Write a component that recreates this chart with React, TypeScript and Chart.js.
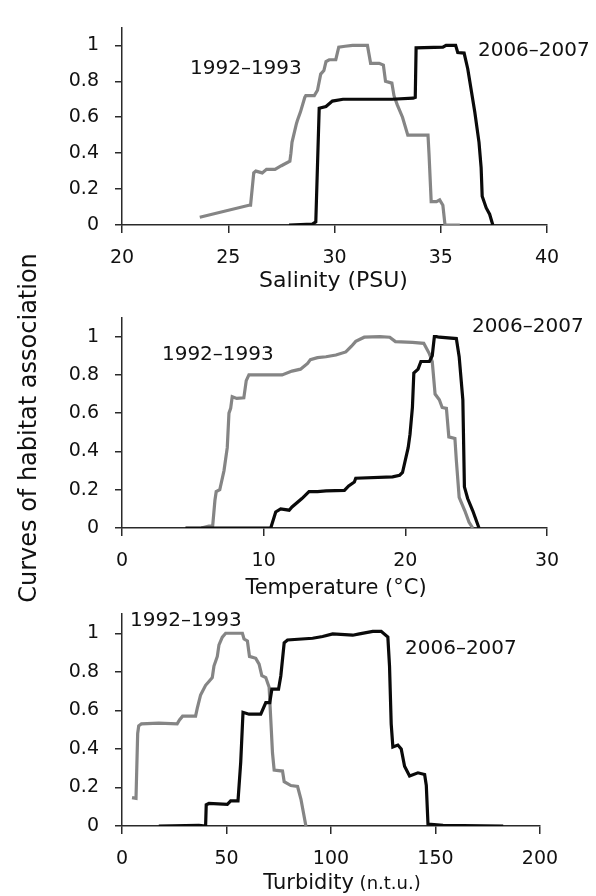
import { useEffect, useRef } from "react";
import { Chart, registerables } from "chart.js";

Chart.register(...registerables);

const W = 596;
const H = 896;
const FONT = "'DejaVu Sans', sans-serif";
const GRAY = "#858585";
const BLACK = "#0a0a0a";
const AXIS = "#2a2a2a";
const TEXT = "#111111";

// ---------- Salinity ----------
const salinityTicks = [20, 25, 30, 35, 40];
const salinityGrayX = [23.66, 25.97, 26.05, 26.2, 26.3, 26.6, 26.8, 27.2, 27.5, 27.9, 27.95, 28.0, 28.2, 28.25, 28.4, 28.6, 28.65, 29.05, 29.2, 29.35, 29.5, 29.6, 29.75, 30.06, 30.2, 30.5, 30.85, 31.55, 31.7, 32.1, 32.3, 32.4, 32.7, 32.8, 32.95, 33.2, 33.45, 34.4, 34.45, 34.55, 34.8, 34.95, 35.1, 35.2, 35.9];
const salinityGrayY = [0.043, 0.11, 0.11, 0.29, 0.3, 0.29, 0.31, 0.31, 0.33, 0.355, 0.4, 0.46, 0.56, 0.58, 0.63, 0.71, 0.72, 0.72, 0.75, 0.84, 0.86, 0.91, 0.92, 0.92, 0.99, 0.995, 1.0, 1.0, 0.9, 0.9, 0.89, 0.8, 0.79, 0.72, 0.67, 0.6, 0.5, 0.5, 0.39, 0.13, 0.13, 0.14, 0.11, 0.0, 0.0];
const salinityBlackX = [27.86, 28.96, 29.12, 29.28, 29.6, 29.9, 30.4, 32.7, 33.7, 33.8, 33.84, 35.1, 35.25, 35.7, 35.8, 36.1, 36.27, 36.6, 36.8, 36.9, 36.95, 37.14, 37.3, 37.45];
const salinityBlackY = [0, 0.005, 0.017, 0.65, 0.66, 0.69, 0.7, 0.7, 0.706, 0.71, 0.986, 0.99, 1.0, 1.0, 0.96, 0.957, 0.87, 0.63, 0.46, 0.32, 0.16, 0.095, 0.06, 0];

// ---------- Temperature ----------
const temperatureTicks = [0, 10, 20, 30];
const temperatureGrayX = [5.6, 6.13, 6.4, 6.56, 6.65, 6.9, 7.2, 7.43, 7.55, 7.67, 7.78, 8.1, 8.6, 8.77, 8.96, 11.3, 12.0, 12.6, 13.1, 13.3, 13.8, 14.4, 15.1, 15.8, 16.2, 16.5, 17.1, 18.2, 18.9, 19.3, 20.5, 21.3, 21.7, 21.9, 22.1, 22.4, 22.6, 22.9, 23.07, 23.5, 23.6, 23.8, 24.2, 24.5, 24.76];
const temperatureGrayY = [0, 0.01, 0.01, 0.145, 0.19, 0.2, 0.3, 0.42, 0.6, 0.625, 0.686, 0.677, 0.68, 0.77, 0.8, 0.8, 0.82, 0.83, 0.86, 0.88, 0.89, 0.895, 0.904, 0.92, 0.95, 0.975, 0.997, 1.0, 0.997, 0.974, 0.97, 0.965, 0.91, 0.87, 0.7, 0.67, 0.63, 0.625, 0.476, 0.468, 0.354, 0.16, 0.09, 0.03, 0];
const temperatureBlackX = [4.48, 10.5, 10.85, 11.2, 11.8, 12.0, 12.7, 13.2, 13.8, 14.4, 15.7, 16.0, 16.4, 16.5, 19.1, 19.6, 19.8, 20.2, 20.33, 20.5, 20.6, 20.9, 21.1, 21.7, 21.9, 22.05, 22.2, 22.4, 23.6, 23.8, 24.06, 24.17, 24.4, 24.76, 25.2];
const temperatureBlackY = [0, 0, 0.084, 0.1, 0.093, 0.11, 0.154, 0.19, 0.19, 0.194, 0.197, 0.22, 0.24, 0.26, 0.267, 0.276, 0.29, 0.42, 0.49, 0.63, 0.81, 0.83, 0.87, 0.87, 0.9, 1.0, 1.0, 0.997, 0.99, 0.895, 0.67, 0.215, 0.154, 0.09, 0];

// ---------- Turbidity ----------
const turbidityTicks = [0, 50, 100, 150, 200];
const turbidityGrayX = [4.8, 6.7, 7.5, 8, 9.3, 17.6, 26.4, 27.5, 29, 35.2, 36, 37.6, 40, 41.6, 43.2, 44, 45.6, 46.4, 48, 49.6, 57.6, 58.4, 60, 61, 64, 65.6, 66.9, 68.8, 70.4, 71.2, 72, 72.8, 76.8, 77.6, 80.8, 84, 85.6, 88];
const turbidityGrayY = [0.147, 0.143, 0.48, 0.52, 0.53, 0.534, 0.53, 0.55, 0.57, 0.57, 0.61, 0.68, 0.73, 0.75, 0.77, 0.83, 0.88, 0.94, 0.98, 1.0, 1.0, 0.97, 0.96, 0.88, 0.87, 0.84, 0.78, 0.77, 0.72, 0.55, 0.38, 0.29, 0.285, 0.23, 0.21, 0.205, 0.14, 0];
const turbidityBlackX = [17.6, 36.8, 40, 40.3, 41.6, 50.4, 52, 55.5, 56.8, 57.9, 60.8, 66.4, 68.8, 70.7, 71.7, 74.9, 76, 77.6, 79.2, 91.2, 96, 100.8, 110.4, 113.6, 120, 124, 127.2, 128, 128.8, 129.6, 132, 133.6, 135.2, 137.6, 141.6, 144.8, 145.6, 146.4, 153.6, 182.4];
const turbidityBlackY = [0, 0.003, 0, 0.11, 0.117, 0.112, 0.13, 0.13, 0.33, 0.59, 0.58, 0.58, 0.64, 0.64, 0.71, 0.71, 0.78, 0.95, 0.965, 0.974, 0.983, 0.997, 0.99, 0.997, 1.01, 1.01, 0.98, 0.83, 0.53, 0.41, 0.42, 0.4, 0.31, 0.26, 0.276, 0.267, 0.21, 0.01, 0.003, 0];

// ---------- shared ----------
const yTicks = [0, 0.2, 0.4, 0.6, 0.8, 1];
const yTickLabels = ["0", "0.2", "0.4", "0.6", "0.8", "1"];
const seriesNames = ["1992–1993", "2006–2007"];
const yAxisTitle = "Curves of habitat association";

type TitlePart = { text: string; size: number };
type Panel = {
  xMin: number;
  xMax: number;
  xTicks: number[];
  grayX: number[];
  grayY: number[];
  blackX: number[];
  blackY: number[];
  area: { top: number; bottom: number; left: number; right: number };
  labels: { text: string; x: number; y: number }[];
  title: TitlePart[];
  titleDx: number;
  titleDy: number;
};

const panels: Panel[] = [
  {
    xMin: 20, xMax: 40, xTicks: salinityTicks,
    grayX: salinityGrayX, grayY: salinityGrayY, blackX: salinityBlackX, blackY: salinityBlackY,
    area: { top: 13.5, bottom: 225, left: 122, right: 547 },
    labels: [
      { text: seriesNames[0], x: 23.2, y: 0.868 },
      { text: seriesNames[1], x: 36.75, y: 0.967 },
    ],
    title: [{ text: "Salinity (PSU)", size: 22 }],
    titleDx: -1, titleDy: 62,
  },
  {
    xMin: 0, xMax: 30, xTicks: temperatureTicks,
    grayX: temperatureGrayX, grayY: temperatureGrayY, blackX: temperatureBlackX, blackY: temperatureBlackY,
    area: { top: 317.5, bottom: 528, left: 122, right: 547 },
    labels: [
      { text: seriesNames[0], x: 2.82, y: 0.904 },
      { text: seriesNames[1], x: 24.7, y: 1.05 },
    ],
    title: [{ text: "Temperature (°C)", size: 21 }],
    titleDx: 1.5, titleDy: 66,
  },
  {
    xMin: 0, xMax: 200, xTicks: turbidityTicks,
    grayX: turbidityGrayX, grayY: turbidityGrayY, blackX: turbidityBlackX, blackY: turbidityBlackY,
    area: { top: 614, bottom: 826, left: 122, right: 540 },
    labels: [
      { text: seriesNames[0], x: 3.83, y: 1.064 },
      { text: seriesNames[1], x: 135.4, y: 0.918 },
    ],
    title: [
      { text: "Turbidity", size: 21 },
      { text: " (n.t.u.)", size: 18 },
    ],
    titleDx: 11, titleDy: 63,
  },
];

function makeChart(canvas: HTMLCanvasElement, p: Panel) {
  const toPts = (xs: number[], ys: number[]) => xs.map((x, i) => ({ x, y: ys[i] }));

  const textPlugin = {
    id: "panelText",
    afterDraw(chart: any) {
      const { ctx, chartArea } = chart;
      const xs = chart.scales.x;
      const ys = chart.scales.y;
      ctx.save();
      ctx.fillStyle = TEXT;
      ctx.textAlign = "left";
      ctx.textBaseline = "middle";
      ctx.font = `20px ${FONT}`;
      for (const l of p.labels) {
        ctx.fillText(l.text, xs.getPixelForValue(l.x), ys.getPixelForValue(l.y));
      }
      ctx.textBaseline = "alphabetic";
      let total = 0;
      const widths: number[] = [];
      for (const part of p.title) {
        ctx.font = `${part.size}px ${FONT}`;
        const w = ctx.measureText(part.text).width;
        widths.push(w);
        total += w;
      }
      let x = (chartArea.left + chartArea.right) / 2 + p.titleDx - total / 2;
      const y = chartArea.bottom + p.titleDy;
      p.title.forEach((part, i) => {
        ctx.font = `${part.size}px ${FONT}`;
        ctx.fillText(part.text, x, y);
        x += widths[i];
      });
      ctx.restore();
    },
  };

  return new Chart(canvas, {
    type: "line",
    data: {
      datasets: [
        {
          label: seriesNames[1],
          data: toPts(p.blackX, p.blackY),
          borderColor: BLACK,
          borderWidth: 3.2,
          pointRadius: 0,
          tension: 0,
          fill: false,
        },
        {
          label: seriesNames[0],
          data: toPts(p.grayX, p.grayY),
          borderColor: GRAY,
          borderWidth: 3.2,
          pointRadius: 0,
          tension: 0,
          fill: false,
        },
      ],
    },
    options: {
      animation: false,
      responsive: false,
      maintainAspectRatio: false,
      layout: { padding: { top: p.area.top, left: 0, right: W - p.area.right, bottom: 0 } },
      plugins: {
        legend: { display: false },
        tooltip: { enabled: false },
        title: { display: false },
      },
      scales: {
        x: {
          type: "linear",
          min: p.xMin,
          max: p.xMax,
          afterBuildTicks: (s: any) => {
            s.ticks = p.xTicks.map((v) => ({ value: v }));
          },
          afterFit: (s: any) => {
            s.height = H - p.area.bottom;
          },
          grid: {
            display: true,
            drawOnChartArea: false,
            drawTicks: true,
            tickLength: 8,
            color: AXIS,
            lineWidth: 1.5,
          },
          border: { display: true, color: AXIS, width: 1.5 },
          ticks: {
            color: TEXT,
            font: { family: FONT, size: 19 },
            padding: 14,
            maxRotation: 0,
            autoSkip: false,
            callback: (v: any) => String(v),
          },
        },
        y: {
          type: "linear",
          min: 0,
          max: 1.1,
          afterBuildTicks: (s: any) => {
            s.ticks = yTicks.map((v) => ({ value: v }));
          },
          afterFit: (s: any) => {
            s.width = p.area.left;
          },
          grid: {
            display: true,
            drawOnChartArea: false,
            drawTicks: true,
            tickLength: 7,
            color: AXIS,
            lineWidth: 1.5,
          },
          border: { display: true, color: AXIS, width: 1.5 },
          ticks: {
            color: TEXT,
            font: { family: FONT, size: 19 },
            padding: 16,
            autoSkip: false,
            callback: (v: any) => {
              const i = yTicks.findIndex((t) => Math.abs(t - Number(v)) < 1e-9);
              return i >= 0 ? yTickLabels[i] : "";
            },
          },
        },
      },
    } as any,
    plugins: [textPlugin],
  });
}

export default function App() {
  const refs = [useRef<HTMLCanvasElement>(null), useRef<HTMLCanvasElement>(null), useRef<HTMLCanvasElement>(null)];

  useEffect(() => {
    const charts = panels.map((p, i) => makeChart(refs[i].current as HTMLCanvasElement, p));
    return () => charts.forEach((c) => c.destroy());
  }, []);

  return (
    <div style={{ position: "absolute", left: 0, top: 0, width: W, height: H, background: "#ffffff", overflow: "hidden" }}>
      {refs.map((r, i) => (
        <canvas
          key={i}
          ref={r}
          width={W}
          height={H}
          style={{ position: "absolute", left: 0, top: 0, width: W, height: H }}
        />
      ))}
      <div
        style={{
          position: "absolute",
          left: 28 - 220,
          top: 428 - 15,
          width: 440,
          height: 30,
          lineHeight: "30px",
          textAlign: "center",
          transform: "rotate(-90deg)",
          transformOrigin: "50% 50%",
          fontFamily: FONT,
          fontSize: 24,
          color: TEXT,
          whiteSpace: "nowrap",
        }}
      >
        {yAxisTitle}
      </div>
    </div>
  );
}
